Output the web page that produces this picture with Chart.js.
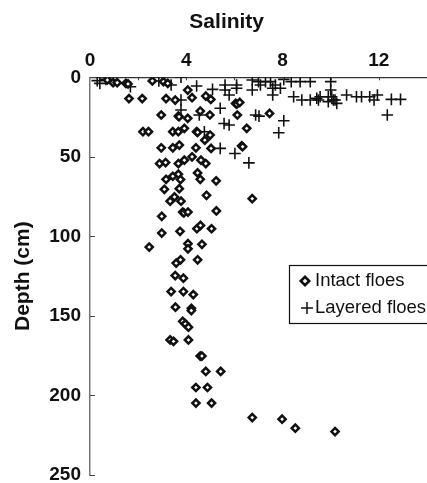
<!DOCTYPE html>
<html>
<head>
<meta charset="utf-8">
<script src="https://cdn.jsdelivr.net/npm/chart.js@4/dist/chart.umd.min.js"></script>
<style>
  html, body { margin: 0; padding: 0; background: #ffffff; }
  #wrap { width: 427px; height: 483px; position: relative; }
  canvas { display: block; }
</style>
</head>
<body>
<div id="wrap"><canvas id="c" width="427" height="483"></canvas></div>
<script>
// ---- Data ----
const xTickLabels = [0, 4, 8, 12];
const yTickLabels = [0, 50, 100, 150, 200, 250];
const seriesNames = ["Intact floes", "Layered floes"];

const intactSalinity = [
  0.72, 0.96, 1.13, 1.49, 1.58, 2.59, 3.05, 3.23, 4.06,
  1.62, 2.17, 3.16, 3.54, 4.24, 4.81, 5.02, 6.05, 6.10, 6.22,
  2.96, 3.67, 3.70, 4.58, 4.98, 6.12, 7.46, 4.06,
  2.20, 2.43, 3.44, 3.67, 3.92, 4.43, 4.47, 4.99, 6.51, 4.77,
  2.96, 3.44, 3.71, 4.40, 5.03, 6.30, 6.34, 4.24,
  2.89, 3.14, 3.67, 3.92, 4.61, 4.81,
  3.16, 3.44, 3.67, 3.76, 4.47, 4.58, 5.24,
  3.09, 3.71, 4.84, 3.51, 3.33, 3.78, 6.74,
  3.85, 3.90, 4.07, 5.25, 2.98,
  4.44, 4.59, 5.05, 2.98, 3.74,
  2.46, 4.07, 4.07, 4.65,
  3.58, 3.76, 4.47, 3.54, 3.88,
  3.37, 3.88, 4.29, 3.55, 4.21, 4.21,
  3.85, 3.96, 4.09, 3.33, 3.47, 4.09,
  4.58, 4.65, 4.81, 5.43, 4.40, 4.88, 4.40, 5.05,
  6.74, 7.98, 8.53, 10.18
];
const intactDepth = [
  1.7, 3.4, 3.4, 3.8, 4.2, 2.3, 2.7, 3.8, 8.0,
  13.4, 13.4, 13.4, 14.3, 12.8, 11.8, 13.9, 16.4, 16.8, 15.8,
  23.7, 24.4, 24.8, 21.2, 23.7, 23.7, 22.7, 25.8,
  34.2, 34.2, 34.2, 34.2, 32.1, 34.2, 34.6, 36.3, 32.1, 39.5,
  44.3, 44.3, 42.6, 44.3, 44.7, 43.1, 43.6, 50.0,
  54.2, 53.6, 54.2, 52.1, 52.1, 54.2,
  64.1, 62.2, 60.9, 64.3, 60.1, 64.1, 65.1,
  70.4, 70.0, 74.2, 75.2, 77.9, 77.9, 76.3,
  84.7, 85.2, 84.7, 84.0, 87.4,
  95.2, 93.1, 95.2, 97.9, 96.8,
  106.7, 104.6, 107.8, 105.0,
  116.8, 114.7, 114.7, 124.6, 126.3,
  134.7, 134.7, 136.6, 144.5, 145.2, 146.6,
  153.4, 155.0, 157.1, 165.1, 166.0, 165.1,
  175.2, 175.2, 184.9, 184.9, 195.0, 195.0, 204.8, 204.8,
  213.9, 214.9, 220.6, 222.7
];

const layeredSalinity = [
  0.30, 0.41, 0.66, 1.68, 2.86, 3.37, 3.78, 3.78, 3.78,
  4.43, 5.09, 4.54, 5.41, 5.61, 5.61, 5.78, 6.09, 6.09,
  5.57, 5.78, 4.75, 5.41, 6.02, 6.60,
  6.74, 6.74, 7.00, 7.08, 7.29, 7.50, 7.59, 7.70, 7.91, 7.59,
  8.05, 8.36, 8.73, 9.15, 6.88, 7.02, 8.05, 7.84,
  8.46, 8.80, 9.15, 9.42, 9.49, 9.56, 10.00, 10.00, 9.90, 9.90,
  10.04, 10.11, 10.18, 10.25, 10.66, 11.07, 11.28, 11.62, 11.80, 11.94,
  12.52, 12.90, 12.35
];
const layeredDepth = [
  2.1, 3.8, 1.3, 5.9, 2.3, 4.8, 0.0, 14.3, 20.6,
  5.5, 7.6, 23.7, 19.5, 4.8, 8.0, 11.1, 4.8, 6.9,
  29.0, 30.0, 34.2, 44.7, 47.9, 53.8,
  1.7, 8.0, 2.7, 4.8, 2.7, 2.7, 6.9, 4.8, 6.9, 11.1,
  1.3, 2.7, 2.7, 2.7, 23.7, 24.4, 27.3, 34.9,
  12.2, 14.3, 14.3, 13.2, 14.3, 12.2, 2.7, 8.0, 12.2, 15.3,
  12.2, 14.3, 14.3, 16.4, 11.1, 12.2, 12.2, 12.2, 14.3, 11.1,
  13.9, 13.9, 23.7
];

function toPoints(xs, ys) { return xs.map((x, i) => ({ x: x, y: ys[i] })); }

const INK = '#111111';
const FONT = "'Liberation Sans', Arial, Helvetica, sans-serif";

// inward tick marks + framed legend drawn with the library's scales/helpers
const extrasPlugin = {
  id: 'extras',
  afterDraw(chart) {
    const ctx = chart.ctx;
    const xs = chart.scales.x, ys = chart.scales.y;
    const area = chart.chartArea;
    ctx.save();
    ctx.strokeStyle = '#444';
    ctx.lineWidth = 1;
    yTickLabels.forEach(v => {
      const py = Math.round(ys.getPixelForValue(v)) + 0.5;
      ctx.beginPath(); ctx.moveTo(area.left, py); ctx.lineTo(area.left + 5, py); ctx.stroke();
    });
    [2, 4, 6, 8, 10, 12].forEach(v => {
      const px = Math.round(xs.getPixelForValue(v)) + 0.5;
      ctx.beginPath(); ctx.moveTo(px, area.top); ctx.lineTo(px, area.top + 3); ctx.stroke();
    });
    // legend
    const lx = 289.5, ly = 265.5;
    ctx.fillStyle = '#fff';
    ctx.fillRect(lx, ly, 150, 58);
    ctx.strokeStyle = INK;
    ctx.lineWidth = 1.2;
    ctx.strokeRect(lx, ly, 150, 58);
    const ds = chart.data.datasets;
    ctx.fillStyle = '#fff'; ctx.strokeStyle = INK;
    ctx.lineWidth = 2.6;
    Chart.helpers.drawPoint(ctx, { pointStyle: 'rectRot', radius: 4.2, borderWidth: 2.6 }, 305, 281);
    ctx.lineWidth = 1.5;
    Chart.helpers.drawPoint(ctx, { pointStyle: 'cross', radius: 6, borderWidth: 1.5 }, 307, 308);
    ctx.fillStyle = INK;
    ctx.font = "18.5px " + FONT;
    ctx.textBaseline = 'middle';
    ctx.textAlign = 'left';
    ctx.fillText(ds[0].label, 315, 281);
    ctx.fillText(ds[1].label, 315, 308);
    ctx.restore();
  }
};

new Chart(document.getElementById('c'), {
  type: 'scatter',
  data: {
    datasets: [
      {
        label: seriesNames[0],
        data: toPoints(intactSalinity, intactDepth),
        pointStyle: 'rectRot',
        radius: 3.6,
        borderWidth: 2.5,
        borderColor: INK,
        backgroundColor: '#ffffff'
      },
      {
        label: seriesNames[1],
        data: toPoints(layeredSalinity, layeredDepth),
        pointStyle: 'cross',
        radius: 5.8,
        borderWidth: 1.6,
        borderColor: INK,
        backgroundColor: INK
      }
    ]
  },
  options: {
    responsive: false,
    animation: false,
    devicePixelRatio: 1,
    layout: { autoPadding: false, padding: { left: 23.4, right: -3, top: 0, bottom: 8 } },
    plugins: {
      legend: { display: false },
      tooltip: { enabled: false },
      title: {
        display: true,
        text: 'Salinity',
        color: INK,
        font: { family: FONT, size: 21, weight: 'bold' },
        padding: { top: 9.4, bottom: 0 }
      }
    },
    scales: {
      x: {
        type: 'linear',
        position: 'top',
        min: 0,
        max: 14,
        afterBuildTicks: (s) => { s.ticks = xTickLabels.map(v => ({ value: v })); },
        afterFit: (s) => { s.height = 42.7; s.paddingLeft = 0; s.paddingRight = 0; },
        grid: { display: true, drawOnChartArea: false, drawTicks: false },
        border: { display: true, color: '#333', width: 1.2 },
        ticks: {
          color: INK,
          padding: 5,
          maxRotation: 0,
          font: { family: FONT, size: 19, weight: 'bold' }
        }
      },
      y: {
        type: 'linear',
        reverse: true,
        min: 0,
        max: 250,
        afterBuildTicks: (s) => { s.ticks = yTickLabels.map(v => ({ value: v })); },
        afterFit: (s) => { s.width = 90 - 23.4; s.paddingTop = 0; s.paddingBottom = 0; },
        grid: { display: true, drawOnChartArea: false, drawTicks: false },
        border: { display: true, color: '#777', width: 1.5 },
        title: {
          display: true,
          text: 'Depth (cm)',
          color: INK,
          font: { family: FONT, size: 21, weight: 'bold' },
          padding: { top: -13, bottom: 0 }
        },
        ticks: {
          color: INK,
          padding: 9,
          font: { family: FONT, size: 19, weight: 'bold' }
        }
      }
    }
  },
  plugins: [extrasPlugin]
});
</script>
</body>
</html>
